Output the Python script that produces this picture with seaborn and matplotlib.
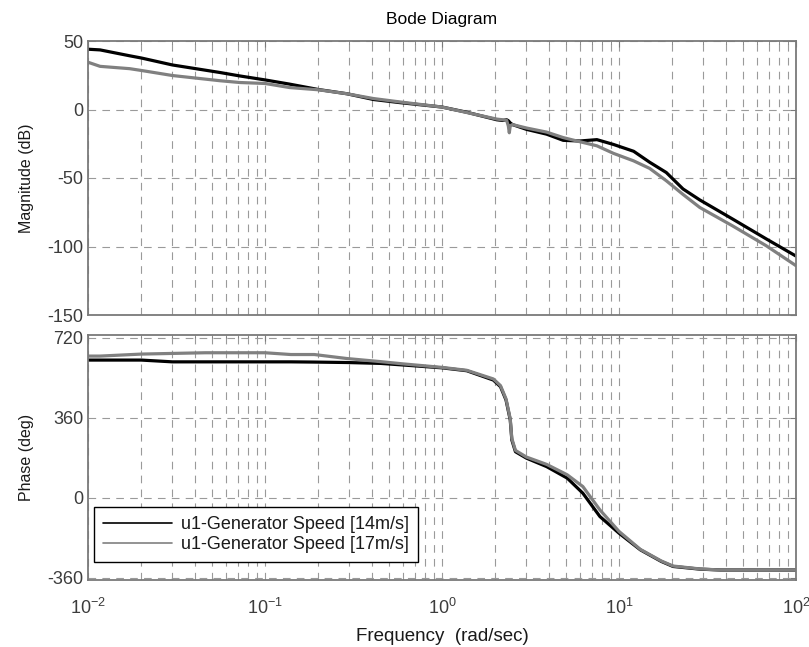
import numpy as np
import pandas as pd
import matplotlib
matplotlib.use("Agg")
import matplotlib.pyplot as plt
from matplotlib.lines import Line2D
from matplotlib.ticker import LogLocator, FixedLocator, NullFormatter
import seaborn as sns

# Frequency response data (rad/sec, dB, deg)
series_names = ["u1-Generator Speed [14m/s]", "u1-Generator Speed [17m/s]"]
series_colors = ["#000000", "#808080"]

mag_freq = [0.01, 0.0117, 0.0172, 0.02, 0.03, 0.0557, 0.072, 0.1, 0.138, 0.2,
            0.29, 0.41, 0.58, 1.0, 1.38, 2.04, 2.2, 2.32, 2.37, 2.4, 2.43, 2.5,
            3.0, 3.9, 4.84, 6.0, 7.5, 9.3, 12.1, 14.9, 18.5, 23, 28.6, 43.9, 68, 100]
mag_14 = [44, 43.5, 39.2, 37.6, 32.5, 27, 24.5, 21.6, 18.5, 14.6,
          11.5, 7.3, 5.0, 1.8, -2.0, -7.5, -8.0, -7.5, -8.2, -9.0, -9.8, -11,
          -14.5, -18, -22.5, -23, -22, -25.5, -30.5, -38.5, -46, -58, -66, -80, -94.5, -107]
mag_17 = [34.5, 31.5, 29.8, 28.5, 24.8, 21, 19.7, 19, 16, 14.4,
          11.5, 8, 5.5, 1.8, -2.2, -7.0, -7.5, -8.0, -12, -17, -12, -11,
          -13.5, -16.5, -20.5, -23.5, -26.5, -32, -37.5, -43, -52, -62, -71.5, -85, -99.5, -114]

phase_freq = [0.01, 0.0117, 0.02, 0.03, 0.046, 0.1, 0.14, 0.19, 0.29, 0.45,
              0.6, 1.0, 1.38, 1.95, 2.14, 2.3, 2.43, 2.48, 2.6, 3.0,
              3.9, 5.1, 6.25, 7.8, 10, 13.2, 17.3, 20.2, 28.6, 37.5, 100]
phase_14 = [620, 620, 620, 612, 612, 612, 612, 611, 609, 605,
            598, 585, 572, 530, 500, 440, 350, 260, 207, 178,
            140, 88, 20, -85, -160, -235, -287, -310, -322, -326, -326]
phase_17 = [638, 638, 647, 650, 653, 653, 645, 645, 627, 613,
            603, 587, 574, 535, 505, 445, 355, 267, 213, 183,
            150, 103, 50, -55, -152, -233, -285, -308, -321, -326, -326]

mag_ticks = [-150, -100, -50, 0, 50]
phase_ticks = [-360, 0, 360, 720]

mag_df = pd.concat([
    pd.DataFrame({"freq": mag_freq, "value": mag_14, "series": series_names[0]}),
    pd.DataFrame({"freq": mag_freq, "value": mag_17, "series": series_names[1]}),
])
phase_df = pd.concat([
    pd.DataFrame({"freq": phase_freq, "value": phase_14, "series": series_names[0]}),
    pd.DataFrame({"freq": phase_freq, "value": phase_17, "series": series_names[1]}),
])

sns.set_style("white")
plt.rcParams["font.family"] = ["Liberation Sans", "DejaVu Sans"]
plt.rcParams["mathtext.fontset"] = "custom"
plt.rcParams["mathtext.rm"] = "Liberation Sans"
plt.rcParams["mathtext.it"] = "Liberation Sans:italic"
plt.rcParams["lines.scale_dashes"] = False
plt.rcParams["axes.unicode_minus"] = False

palette = dict(zip(series_names, series_colors))
fig = plt.figure(figsize=(8.09, 6.47), dpi=100)
W, H = 809, 647
ax_mag = fig.add_axes([88 / W, 1 - 315 / H, (796 - 88) / W, (315 - 41) / H])
ax_ph = fig.add_axes([88 / W, 1 - 580 / H, (796 - 88) / W, (580 - 335) / H])

sns.lineplot(data=mag_df, x="freq", y="value", hue="series", palette=palette,
             ax=ax_mag, legend=False, linewidth=2.3, errorbar=None)
sns.lineplot(data=phase_df, x="freq", y="value", hue="series", palette=palette,
             ax=ax_ph, legend=False, linewidth=2.3, errorbar=None)

spine_color = "#7a7a7a"
tick_color = "#3c3c3c"
grid_kw = dict(color="#9a9a9a", linewidth=0.8, linestyle=(0, (5.5, 4.5)))

for ax in (ax_mag, ax_ph):
    ax.set_xscale("log")
    ax.set_xlim(0.01, 100)
    ax.xaxis.set_major_locator(LogLocator(base=10, numticks=10))
    ax.xaxis.set_minor_locator(LogLocator(base=10, subs=np.arange(2, 10), numticks=100))
    ax.xaxis.set_minor_formatter(NullFormatter())
    ax.grid(True, which="major", axis="both", **grid_kw)
    ax.grid(True, which="minor", axis="x", **grid_kw)
    ax.set_axisbelow(True)
    for sp in ax.spines.values():
        sp.set_visible(True)
        sp.set_color(spine_color)
        sp.set_linewidth(1.3)
    ax.tick_params(which="both", direction="in", top=True, right=True,
                   color=spine_color, labelcolor=tick_color, labelsize=13)
    ax.tick_params(which="major", length=4)
    ax.tick_params(which="minor", length=2.5)
    ax.set_xlabel("")
    ax.set_ylabel("")

ax_mag.set_ylim(-150, 50)
ax_mag.yaxis.set_major_locator(FixedLocator(mag_ticks))
ax_mag.tick_params(axis="x", labelbottom=False)
ax_mag.set_ylabel("Magnitude (dB)", fontsize=11.5, color="#1a1a1a")
ax_mag.set_title("Bode Diagram", fontsize=12.5, color="#000000", pad=12)

ax_ph.set_ylim(-371, 733)
ax_ph.yaxis.set_major_locator(FixedLocator(phase_ticks))
ax_ph.set_ylabel("Phase (deg)", fontsize=11.5, color="#1a1a1a")
ax_ph.set_xlabel("Frequency  (rad/sec)", fontsize=13.5, color="#1a1a1a", labelpad=7)
ax_ph.tick_params(axis="x", pad=13)

handles = [Line2D([], [], color=c, linewidth=1.2) for c in series_colors]
leg = ax_ph.legend(handles, series_names, loc="lower left",
                   bbox_to_anchor=(0.0085, 0.073), borderaxespad=0,
                   fontsize=13, frameon=True, fancybox=False, framealpha=1,
                   edgecolor="#000000", handlelength=3.8, handletextpad=0.5,
                   borderpad=0.5, labelspacing=0.15)
leg.get_frame().set_linewidth(1.0)
for t in leg.get_texts():
    t.set_color("#1a1a1a")

ax_mag.yaxis.set_label_coords(-54 / 708, 0.5)
ax_ph.yaxis.set_label_coords(-54 / 708, 0.5)

fig.savefig("out.png", dpi=100)
